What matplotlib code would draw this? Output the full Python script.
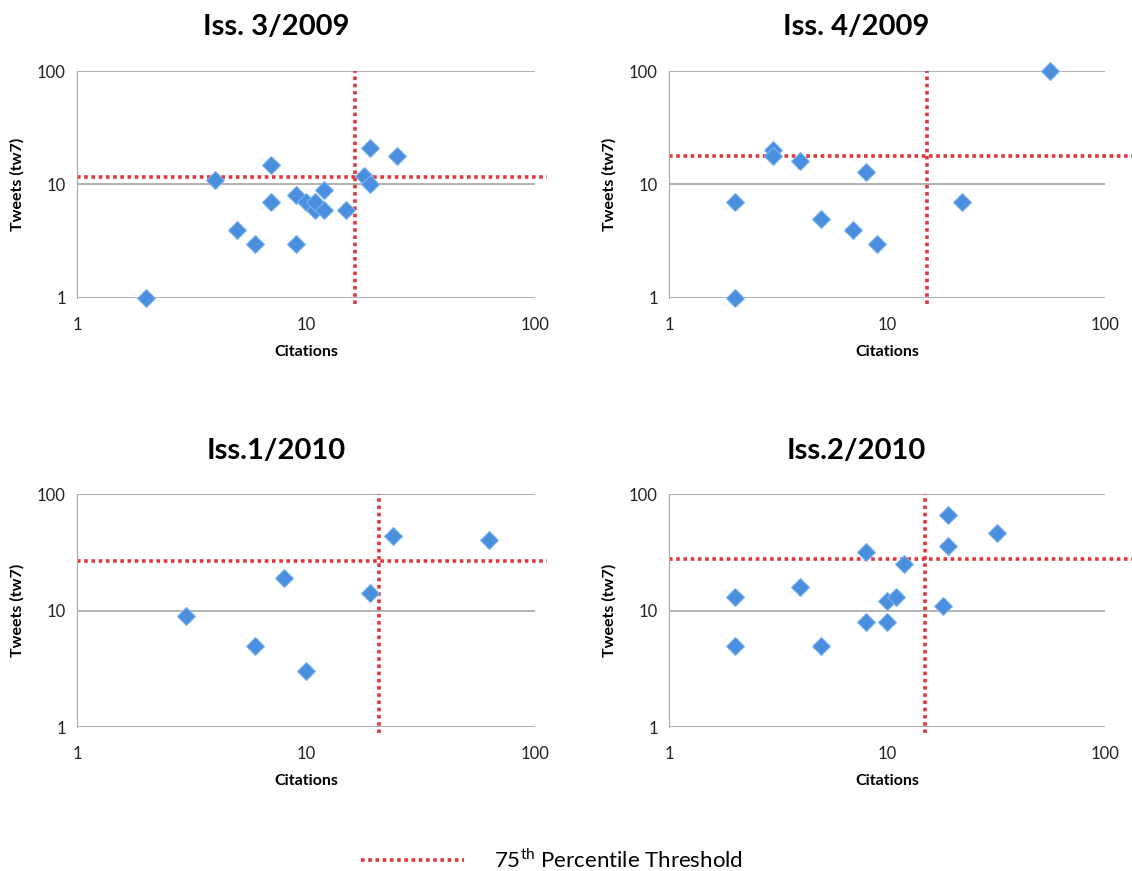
import matplotlib
matplotlib.use("Agg")
from matplotlib import pyplot as plt
from matplotlib.lines import Line2D

plt.rcParams["font.family"] = ["Lato", "DejaVu Sans"]
plt.rcParams["mathtext.fontset"] = "custom"
plt.rcParams["mathtext.rm"] = "Lato"

# Iss. 3/2009
cit_a = [2, 4, 5, 6, 7, 7, 9, 9, 10, 11, 11, 12, 12, 15, 18, 19, 19, 25]
tw_a = [1, 11, 4, 3, 15, 7, 8, 3, 7, 6, 7, 9, 6, 6, 12, 21, 10, 18]
thr_cit_a, thr_tw_a = 16.4, 11.6

# Iss. 4/2009
cit_b = [2, 2, 3, 3, 4, 5, 7, 8, 9, 22, 56]
tw_b = [1, 7, 20, 18, 16, 5, 4, 13, 3, 7, 100]
thr_cit_b, thr_tw_b = 15.3, 17.8

# Iss.1/2010
cit_c = [3, 6, 8, 10, 19, 24, 63]
tw_c = [9, 5, 19, 3, 14, 44, 40]
thr_cit_c, thr_tw_c = 20.9, 26.8

# Iss.2/2010
cit_d = [2, 2, 4, 5, 8, 8, 10, 10, 11, 12, 18, 19, 19, 32]
tw_d = [13, 5, 16, 5, 8, 32, 8, 12, 13, 25, 11, 66, 36, 46]
thr_cit_d, thr_tw_d = 14.9, 27.7

titles = ["Iss. 3/2009", "Iss. 4/2009", "Iss.1/2010", "Iss.2/2010"]
ticks = [1, 10, 100]

W, H = 1132, 871
red = "#e0383c"
blue = "#4a8ede"

fig = plt.figure(figsize=(W / 100, H / 100), dpi=100)

# boxes in pixels: left, top, right, bottom, title centre x, title y, hline right edge, ylabel right edge
boxes = [
    (77, 71, 535, 298, 276, 27, 547, 25),
    (669, 71, 1105, 298, 856, 27, 1132, 617),
    (77, 494, 535, 727, 276, 451, 547, 25),
    (669, 494, 1105, 727, 856, 451, 1132, 617),
]
series = [
    (cit_a, tw_a, thr_cit_a, thr_tw_a),
    (cit_b, tw_b, thr_cit_b, thr_tw_b),
    (cit_c, tw_c, thr_cit_c, thr_tw_c),
    (cit_d, tw_d, thr_cit_d, thr_tw_d),
]

for (l, t, r, b, tx, ty, hr, yl), (cx, ty_, tc, tt), title in zip(boxes, series, titles):
    ax = fig.add_axes([l / W, 1 - b / H, (r - l) / W, (b - t) / H])
    ax.set_xscale("log")
    ax.set_yscale("log")
    ax.set_xlim(1, 100)
    ax.set_ylim(1, 100)
    ax.set_xticks(ticks)
    ax.set_yticks(ticks)
    ax.set_xticklabels([str(v) for v in ticks])
    ax.set_yticklabels([str(v) for v in ticks])
    ax.minorticks_off()
    ax.tick_params(length=0, labelsize=12, colors="#222222")
    ax.tick_params(axis="x", pad=14)
    ax.tick_params(axis="y", pad=8)
    for s in ["top", "right", "bottom"]:
        ax.spines[s].set_visible(False)
    ax.spines["left"].set_color("#a6a6a6")
    ax.grid(axis="y", color="#a6a6a6", linewidth=1.2)
    ax.set_axisbelow(True)

    ax.axvline(tc, ymin=-0.026, ymax=1, color=red, linewidth=2.6,
               linestyle=(0, (1, 1)), clip_on=False, zorder=2)
    ax.axhline(tt, xmin=0, xmax=(hr - l) / (r - l), color=red, linewidth=2.6,
               linestyle=(0, (1, 1)), clip_on=False, zorder=2)

    ax.plot(cx, ty_, linestyle="none", marker="D", markersize=9.5,
            markerfacecolor=blue, markeredgecolor="#7db3ee",
            markeredgewidth=0.8, zorder=3, clip_on=False)

    ax.set_xlabel("Citations", fontsize=11.5, fontweight="bold")
    ax.xaxis.set_label_coords(0.5, -47 / (b - t))
    ax.set_ylabel("Tweets (tw7)", fontsize=11.5, fontweight="bold")
    ax.yaxis.set_label_coords(-(l - yl) / (r - l), 0.5)

    fig.text(tx / W, 1 - ty / H, title, ha="center", va="center",
             fontsize=21, fontweight="bold")

handle = Line2D([], [], color=red, linewidth=2.6, linestyle=(0, (1, 1)))
fig.legend([handle], ["75$^{\\mathrm{th}}$ Percentile Threshold"], loc="center",
           bbox_to_anchor=(552 / W, 1 - 860 / H), frameon=False, fontsize=16,
           handlelength=4.6, handletextpad=1.35, borderpad=0, borderaxespad=0)

fig.savefig("out.png", dpi=100)
plt.close()
